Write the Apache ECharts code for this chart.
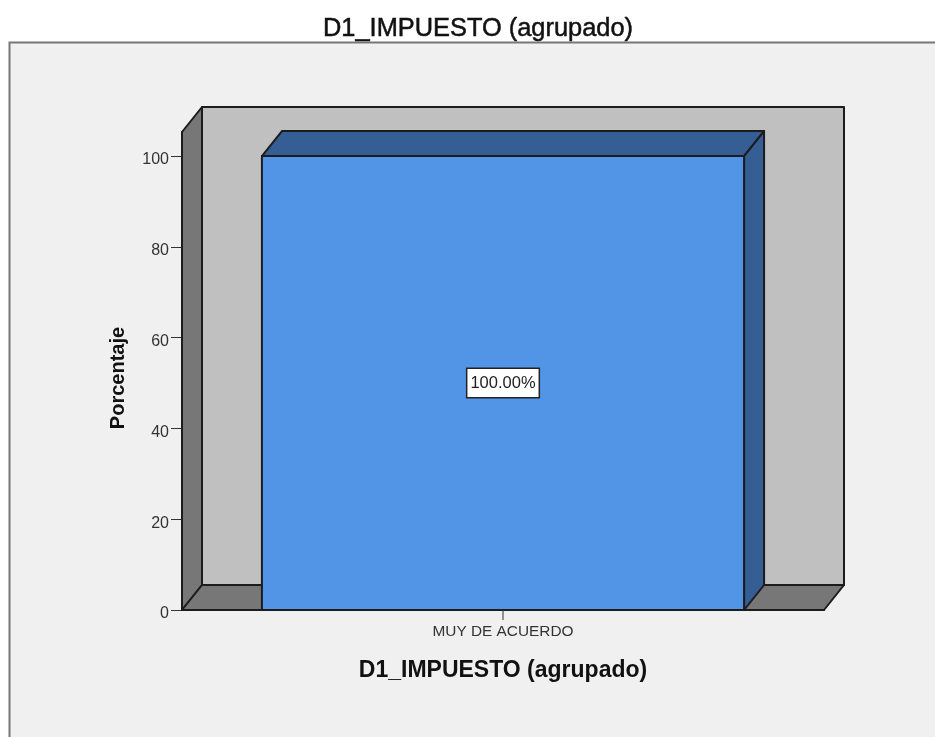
<!DOCTYPE html>
<html>
<head>
<meta charset="utf-8">
<style>
html, body { margin: 0; padding: 0; background: #fff; }
#main { width: 935px; height: 737px; }
</style>
<script src="https://cdn.jsdelivr.net/npm/echarts@6/dist/echarts.min.js"></script>
</head>
<body>
<div id="main"></div>
<script>
var categories = ['MUY DE ACUERDO'];
var porcentaje = [100];
var yTicks = [0, 20, 40, 60, 80, 100];
var chartTitle = 'D1_IMPUESTO (agrupado)';
var yTitle = 'Porcentaje';

var depthX = 20;
var depthY = 25;
var barShare = 0.751;
var edge = '#1c1c1c';

var myChart = echarts.init(document.getElementById('main'), null, { renderer: 'canvas' });

function face(points, color) {
    return {
        type: 'polygon',
        shape: { points: points },
        style: { fill: color, stroke: edge, lineWidth: 2, lineJoin: 'round' }
    };
}

// back wall, side wall and floor of the box
function renderWalls(params) {
    var g = params.coordSys;
    var l = g.x, r = g.x + g.width, t = g.y, b = g.y + g.height;
    return {
        type: 'group',
        children: [
            face([[l + depthX, t - depthY], [r + depthX, t - depthY], [r + depthX, b - depthY], [l + depthX, b - depthY]], '#c0c0c0'),
            face([[l, t], [l + depthX, t - depthY], [l + depthX, b - depthY], [l, b]], '#777777'),
            face([[l, b], [l + depthX, b - depthY], [r + depthX, b - depthY], [r, b]], '#777777')
        ]
    };
}

function renderBar(params, api) {
    var top = api.coord([api.value(0), api.value(1)]);
    var base = api.coord([api.value(0), 0]);
    var half = api.size([1, 0])[0] * barShare / 2;
    var x0 = top[0] - half, x1 = top[0] + half;
    var mid = api.coord([api.value(0), api.value(1) / 2]);
    return {
        type: 'group',
        children: [
            face([[x0, top[1]], [x0 + depthX, top[1] - depthY], [x1 + depthX, top[1] - depthY], [x1, top[1]]], '#345e94'),
            face([[x1, top[1]], [x1 + depthX, top[1] - depthY], [x1 + depthX, base[1] - depthY], [x1, base[1]]], '#345e94'),
            face([[x0, top[1]], [x1, top[1]], [x1, base[1]], [x0, base[1]]], '#5294e6'),
            // category tick, the axis does not place one for a single band
            {
                type: 'line',
                shape: { x1: top[0], y1: base[1], x2: top[0], y2: base[1] + 10 },
                style: { stroke: '#333', lineWidth: 1 }
            },
            {
                type: 'text',
                x: mid[0],
                y: mid[1],
                style: {
                    text: api.value(1).toFixed(2) + '%',
                    font: '16.5px "Liberation Sans"',
                    fill: '#222',
                    align: 'center',
                    verticalAlign: 'middle',
                    backgroundColor: '#fff',
                    borderColor: '#222',
                    borderWidth: 1.5,
                    padding: [8, 3, 3, 3]
                }
            }
        ]
    };
}

var option = {
    backgroundColor: '#fff',
    animation: false,
    title: {
        text: chartTitle,
        left: 473,
        top: 11,
        textAlign: 'center',
        textStyle: { fontFamily: 'Liberation Sans', fontSize: 25.4, fontWeight: 'normal', color: '#111', textBorderColor: '#111', textBorderWidth: 0.5 }
    },
    graphic: [{
        type: 'rect',
        z: -1,
        shape: { x: 9.5, y: 42.5, width: 1000, height: 800 },
        style: { fill: '#f0f0f0', stroke: '#777', lineWidth: 2 }
    }],
    grid: { left: 182, right: 111, top: 132, bottom: 127 },
    xAxis: {
        type: 'category',
        data: categories,
        name: chartTitle,
        nameLocation: 'middle',
        nameGap: 49,
        nameTextStyle: { fontFamily: 'Liberation Sans', fontSize: 23, fontWeight: 'bold', color: '#111' },
        axisLine: { lineStyle: { color: edge, width: 2 } },
        axisTick: { show: false },
        axisLabel: { fontFamily: 'Liberation Sans', fontSize: 15.4, color: '#333', margin: 14 }
    },
    yAxis: {
        type: 'value',
        min: 0,
        max: 105.3,
        name: yTitle,
        nameLocation: 'middle',
        nameGap: 54,
        nameTextStyle: { fontFamily: 'Liberation Sans', fontSize: 20, fontWeight: 'bold', color: '#111', padding: [0, 14, 0, 0] },
        splitLine: { show: false },
        axisLine: { show: true, lineStyle: { color: edge, width: 2 } },
        axisTick: { show: true, length: 11, customValues: yTicks, lineStyle: { color: '#333' } },
        axisLabel: { fontFamily: 'Liberation Sans', fontSize: 16, color: '#333', margin: 13, verticalAlign: 'top', lineHeight: 8, customValues: yTicks }
    },
    series: [
        {
            type: 'custom',
            name: 'walls',
            data: [[0, 0]],
            clip: false,
            silent: true,
            renderItem: renderWalls
        },
        {
            type: 'custom',
            name: yTitle,
            data: categories.map(function (c, i) { return [i, porcentaje[i]]; }),
            clip: false,
            encode: { x: 0, y: 1 },
            renderItem: renderBar
        }
    ]
};

myChart.setOption(option);
window.addEventListener('resize', myChart.resize);
</script>
</body>
</html>
